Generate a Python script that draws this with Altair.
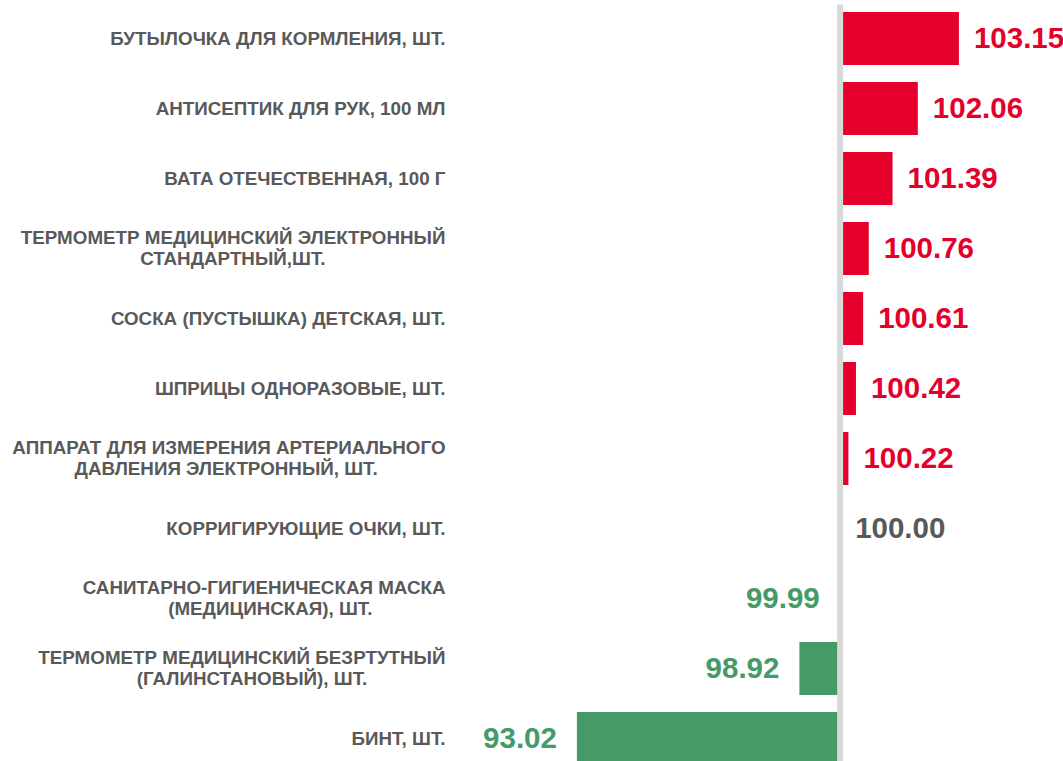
import altair as alt
import pandas as pd

categories = [
    "БУТЫЛОЧКА ДЛЯ КОРМЛЕНИЯ, ШТ.",
    "АНТИСЕПТИК ДЛЯ РУК, 100 МЛ",
    "ВАТА ОТЕЧЕСТВЕННАЯ, 100 Г",
    "ТЕРМОМЕТР МЕДИЦИНСКИЙ ЭЛЕКТРОННЫЙ\nСТАНДАРТНЫЙ,ШТ.",
    "СОСКА (ПУСТЫШКА) ДЕТСКАЯ, ШТ.",
    "ШПРИЦЫ ОДНОРАЗОВЫЕ, ШТ.",
    "АППАРАТ ДЛЯ ИЗМЕРЕНИЯ АРТЕРИАЛЬНОГО\nДАВЛЕНИЯ ЭЛЕКТРОННЫЙ, ШТ.",
    "КОРРИГИРУЮЩИЕ ОЧКИ, ШТ.",
    "САНИТАРНО-ГИГИЕНИЧЕСКАЯ МАСКА\n(МЕДИЦИНСКАЯ), ШТ.",
    "ТЕРМОМЕТР МЕДИЦИНСКИЙ БЕЗРТУТНЫЙ\n(ГАЛИНСТАНОВЫЙ), ШТ.",
    "БИНТ, ШТ.",
]
values = [103.15, 102.06, 101.39, 100.76, 100.61, 100.42, 100.22, 100.00, 99.99, 98.92, 93.02]
baseline = 100

df = pd.DataFrame({"cat": categories, "value": values})
df["base"] = baseline
df["label"] = [f"{v:.2f}" for v in values]
df["sign"] = ["up" if v > baseline else ("down" if v < baseline else "flat") for v in values]

RED = "#E4002B"
GREEN = "#459A67"
GRAY = "#595959"
FONT = "Liberation Sans"
LINE_H = 20.5

# multi-line labels: second line roughly centred under the first
# (padded with no-break spaces, closed by a zero-width space so they are not trimmed)
S = "split(datum.value, '\\n')"
label_expr = (
    f"length({S}) > 1 ? [{S}[0], pad({S}[1], length({S}[1]) + round(1.25 * (length({S}[0]) - length({S}[1]))), '\u00a0') + '\u200b'] : datum.value"
)

xscale = alt.Scale(domain=[89.92, 105.91], zero=False, nice=False)
color = alt.Color("sign:N", scale=alt.Scale(domain=["up", "down", "flat"], range=[RED, GREEN, GRAY]), legend=None)
yenc = alt.Y(
    "cat:N",
    sort=categories,
    scale=alt.Scale(paddingInner=0.243, paddingOuter=0.1215),
    axis=alt.Axis(
        title=None,
        domain=False,
        ticks=False,
        grid=False,
        labelExpr=label_expr,
        labelFont=FONT,
        labelFontSize=18.8,
        labelFontWeight="bold",
        labelColor=GRAY,
        labelPadding=15,
        labelLineHeight=LINE_H,
        labelLimit=600,
        labelOffset={"condition": {"test": "indexof(datum.value, '\\n') >= 0", "value": -LINE_H / 2}, "value": 0},
    ),
)

base = alt.Chart(df)

bars = base.mark_bar().encode(
    y=yenc,
    x=alt.X("value:Q", scale=xscale, axis=None),
    x2="base:Q",
    color=color,
)

text_pos = base.transform_filter(f"datum.value >= {baseline}").mark_text(
    align="left", baseline="middle", dx=15, font=FONT, fontSize=29.5, fontWeight="bold"
).encode(
    y=alt.Y("cat:N", sort=categories),
    x=alt.X("value:Q", scale=xscale),
    text="label:N",
    color=color,
)

text_neg = base.transform_filter(f"datum.value < {baseline}").mark_text(
    align="right", baseline="middle", dx=-20, font=FONT, fontSize=29.5, fontWeight="bold"
).encode(
    y=alt.Y("cat:N", sort=categories),
    x=alt.X("value:Q", scale=xscale),
    text="label:N",
    color=color,
)

rule = alt.Chart(pd.DataFrame({"base": [baseline]})).mark_rule(color="#D9D9D9", strokeWidth=6).encode(
    x=alt.X("base:Q", scale=xscale),
    y=alt.value(1),
    y2=alt.value(775),
)

chart = alt.layer(bars, text_pos, text_neg, rule).properties(
    width=603,
    height=770,
    padding={"left": 460, "top": 3.5, "right": 0, "bottom": 0},
    autosize=alt.AutoSizeParams(type="none"),
    background="white",
).configure_view(stroke=None, strokeWidth=0)

chart.save("out.html", embed_options={"renderer": "svg", "actions": False})
